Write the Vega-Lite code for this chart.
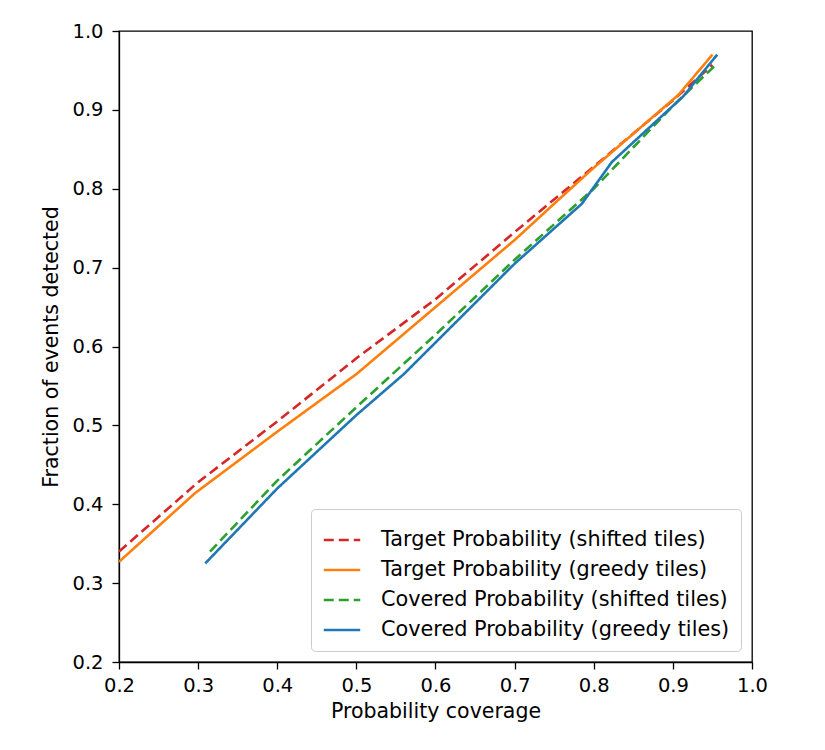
{
  "$schema": "https://vega.github.io/schema/vega-lite/v6.json",
  "width": 633,
  "height": 631,
  "autosize": {"type": "none"},
  "padding": {"left": 119, "top": 31, "right": 73, "bottom": 88},
  "background": "white",
  "config": {
    "font": "DejaVu Sans",
    "view": {"stroke": "black", "strokeWidth": 1.3},
    "axis": {
      "domainColor": "black",
      "domainWidth": 1.3,
      "tickColor": "black",
      "tickWidth": 1.3,
      "tickSize": 7,
      "labelFontSize": 19.5,
      "labelColor": "black",
      "labelPadding": 7,
      "labelFlush": false,
      "labelBound": false,
      "labelOverlap": false,
      "titleFontSize": 20.5,
      "titleFontWeight": "normal",
      "titleColor": "black",
      "grid": false
    }
  },
  "data": {
    "values": [
      {"coverage": 0.2, "fraction": 0.34, "series": "Target Probability (shifted tiles)"},
      {"coverage": 0.3, "fraction": 0.428, "series": "Target Probability (shifted tiles)"},
      {"coverage": 0.4, "fraction": 0.505, "series": "Target Probability (shifted tiles)"},
      {"coverage": 0.5, "fraction": 0.585, "series": "Target Probability (shifted tiles)"},
      {"coverage": 0.6, "fraction": 0.66, "series": "Target Probability (shifted tiles)"},
      {"coverage": 0.7, "fraction": 0.745, "series": "Target Probability (shifted tiles)"},
      {"coverage": 0.8, "fraction": 0.828, "series": "Target Probability (shifted tiles)"},
      {"coverage": 0.9, "fraction": 0.912, "series": "Target Probability (shifted tiles)"},
      {"coverage": 0.95, "fraction": 0.957, "series": "Target Probability (shifted tiles)"},

      {"coverage": 0.2, "fraction": 0.327, "series": "Target Probability (greedy tiles)"},
      {"coverage": 0.296, "fraction": 0.414, "series": "Target Probability (greedy tiles)"},
      {"coverage": 0.4, "fraction": 0.492, "series": "Target Probability (greedy tiles)"},
      {"coverage": 0.5, "fraction": 0.565, "series": "Target Probability (greedy tiles)"},
      {"coverage": 0.6, "fraction": 0.65, "series": "Target Probability (greedy tiles)"},
      {"coverage": 0.7, "fraction": 0.735, "series": "Target Probability (greedy tiles)"},
      {"coverage": 0.75, "fraction": 0.781, "series": "Target Probability (greedy tiles)"},
      {"coverage": 0.797, "fraction": 0.824, "series": "Target Probability (greedy tiles)"},
      {"coverage": 0.907, "fraction": 0.919, "series": "Target Probability (greedy tiles)"},
      {"coverage": 0.95, "fraction": 0.97, "series": "Target Probability (greedy tiles)"},

      {"coverage": 0.315, "fraction": 0.34, "series": "Covered Probability (shifted tiles)"},
      {"coverage": 0.4, "fraction": 0.43, "series": "Covered Probability (shifted tiles)"},
      {"coverage": 0.5, "fraction": 0.523, "series": "Covered Probability (shifted tiles)"},
      {"coverage": 0.6, "fraction": 0.615, "series": "Covered Probability (shifted tiles)"},
      {"coverage": 0.7, "fraction": 0.71, "series": "Covered Probability (shifted tiles)"},
      {"coverage": 0.8, "fraction": 0.8, "series": "Covered Probability (shifted tiles)"},
      {"coverage": 0.9, "fraction": 0.905, "series": "Covered Probability (shifted tiles)"},
      {"coverage": 0.952, "fraction": 0.955, "series": "Covered Probability (shifted tiles)"},

      {"coverage": 0.309, "fraction": 0.325, "series": "Covered Probability (greedy tiles)"},
      {"coverage": 0.4, "fraction": 0.42, "series": "Covered Probability (greedy tiles)"},
      {"coverage": 0.5, "fraction": 0.513, "series": "Covered Probability (greedy tiles)"},
      {"coverage": 0.56, "fraction": 0.565, "series": "Covered Probability (greedy tiles)"},
      {"coverage": 0.7, "fraction": 0.705, "series": "Covered Probability (greedy tiles)"},
      {"coverage": 0.785, "fraction": 0.781, "series": "Covered Probability (greedy tiles)"},
      {"coverage": 0.823, "fraction": 0.834, "series": "Covered Probability (greedy tiles)"},
      {"coverage": 0.913, "fraction": 0.917, "series": "Covered Probability (greedy tiles)"},
      {"coverage": 0.956, "fraction": 0.97, "series": "Covered Probability (greedy tiles)"}
    ]
  },
  "mark": {"type": "line", "strokeWidth": 2.6, "clip": true},
  "encoding": {
    "x": {
      "field": "coverage",
      "type": "quantitative",
      "title": "Probability coverage",
      "scale": {"domain": [0.2, 1.0], "nice": false, "zero": false},
      "axis": {"values": [0.2, 0.3, 0.4, 0.5, 0.6, 0.7, 0.8, 0.9, 1.0], "format": ".1f", "titlePadding": 7}
    },
    "y": {
      "field": "fraction",
      "type": "quantitative",
      "title": "Fraction of events detected",
      "scale": {"domain": [0.2, 1.0], "nice": false, "zero": false},
      "axis": {"values": [0.2, 0.3, 0.4, 0.5, 0.6, 0.7, 0.8, 0.9, 1.0], "format": ".1f", "labelPadding": 9, "titlePadding": 10}
    },
    "color": {
      "field": "series",
      "type": "nominal",
      "scale": {
        "domain": ["Target Probability (shifted tiles)", "Target Probability (greedy tiles)", "Covered Probability (shifted tiles)", "Covered Probability (greedy tiles)"],
        "range": ["#d62728", "#ff7f0e", "#2ca02c", "#1f77b4"]
      },
      "legend": {
        "title": null,
        "orient": "bottom-right",
        "offset": 11,
        "labelFontSize": 20.8,
        "labelColor": "black",
        "labelLimit": 500,
        "symbolType": "stroke",
        "symbolSize": 1330,
        "symbolStrokeWidth": 2.6,
        "rowPadding": -13,
        "labelOffset": 19,
        "padding": 11,
        "strokeColor": "#cccccc",
        "fillColor": "rgba(255,255,255,0.8)",
        "cornerRadius": 4
      }
    },
    "strokeDash": {
      "field": "series",
      "type": "nominal",
      "scale": {
        "domain": ["Target Probability (shifted tiles)", "Target Probability (greedy tiles)", "Covered Probability (shifted tiles)", "Covered Probability (greedy tiles)"],
        "range": [[10, 5], [1, 0], [10, 5], [1, 0]]
      },
      "legend": null
    }
  }
}
